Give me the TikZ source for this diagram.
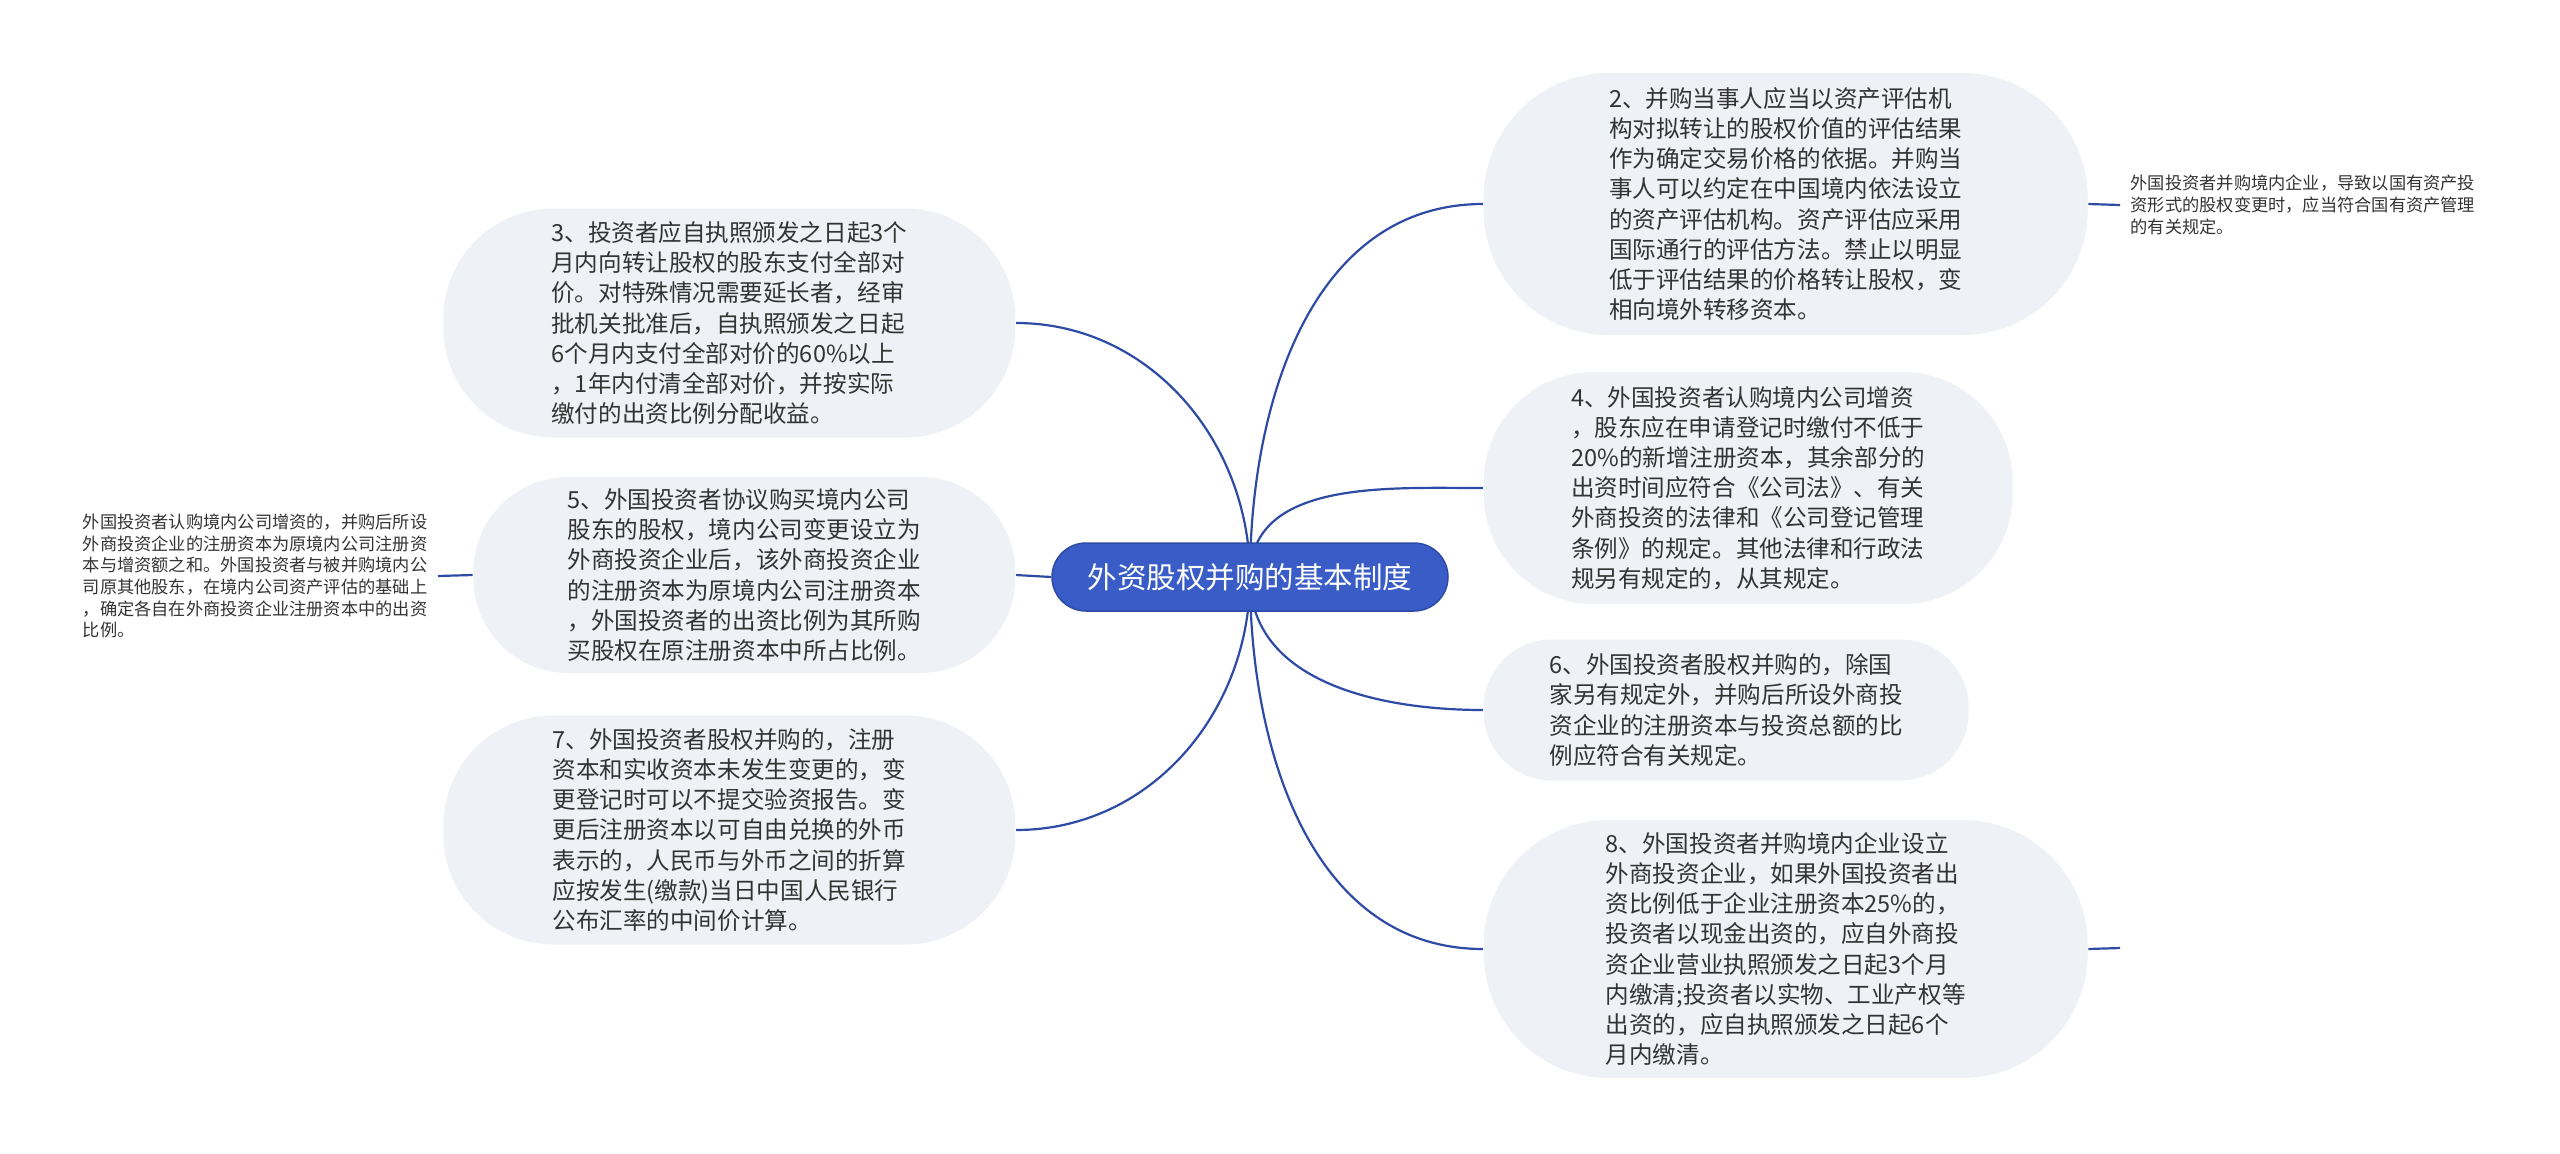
\documentclass[tikz,border=0pt]{standalone}
\usepackage{fontspec}
\setmainfont{Noto Sans CJK SC}
\usetikzlibrary{backgrounds}
\definecolor{mmblue}{HTML}{3A5CC6}
\definecolor{mmline}{HTML}{2D4BA5}
\definecolor{mmgray}{HTML}{EEF1F5}
\definecolor{mmtext}{HTML}{333333}

\tikzset{
  root/.style={fill=mmblue, draw=mmline, line width=0.15mm, text=white, inner sep=0pt,
    font=\fontsize{8.4}{10}\selectfont},
  topic/.style={fill=mmgray, text=mmtext, align=left, inner sep=0pt,
    font=\fontsize{6.7}{8.6}\selectfont},
  leaf/.style={text=mmtext, align=left, inner sep=0pt, inner xsep=1mm,
    font=\fontsize{4.9}{6.15}\selectfont},
  link/.style={draw=mmline, line width=0.22mm}
}

\begin{document}
\begin{tikzpicture}[x=0.1mm, y=-0.1mm]
\useasboundingbox (0,0) rectangle (2560,1153);

% central topic
\node[root, minimum width=39.6mm, minimum height=6.8mm, rounded corners=3.4mm] (root) at (1250,577) {外资股权并购的基本制度};

% left branches
\node[topic, anchor=east, minimum width=57.2mm, minimum height=22.9mm, rounded corners=11mm] (t3) at (1016,323)
  {3、投资者应自执照颁发之日起3个\\月内向转让股权的股东支付全部对\\价。对特殊情况需要延长者，经审\\批机关批准后，自执照颁发之日起\\6个月内支付全部对价的60\%以上\\，1年内付清全部对价，并按实际\\缴付的出资比例分配收益。};
\node[topic, anchor=east, minimum width=54.2mm, minimum height=19.6mm, rounded corners=9.5mm] (t5) at (1016,575)
  {5、外国投资者协议购买境内公司\\股东的股权，境内公司变更设立为\\外商投资企业后，该外商投资企业\\的注册资本为原境内公司注册资本\\，外国投资者的出资比例为其所购\\买股权在原注册资本中所占比例。};
\node[topic, anchor=east, minimum width=57.2mm, minimum height=22.9mm, rounded corners=11mm] (t7) at (1016,830)
  {7、外国投资者股权并购的，注册\\资本和实收资本未发生变更的，变\\更登记时可以不提交验资报告。变\\更后注册资本以可自由兑换的外币\\表示的，人民币与外币之间的折算\\应按发生(缴款)当日中国人民银行\\公布汇率的中间价计算。};
\node[leaf, anchor=east] (l5) at (438,576)
  {外国投资者认购境内公司增资的，并购后所设\\外商投资企业的注册资本为原境内公司注册资\\本与增资额之和。外国投资者与被并购境内公\\司原其他股东，在境内公司资产评估的基础上\\，确定各自在外商投资企业注册资本中的出资\\比例。};

% right branches
\node[topic, anchor=west, minimum width=60.4mm, minimum height=26.2mm, rounded corners=12.5mm] (t2) at (1483,204)
  {2、并购当事人应当以资产评估机\\构对拟转让的股权价值的评估结果\\作为确定交易价格的依据。并购当\\事人可以约定在中国境内依法设立\\的资产评估机构。资产评估应采用\\国际通行的评估方法。禁止以明显\\低于评估结果的价格转让股权，变\\相向境外转移资本。};
\node[topic, anchor=west, minimum width=52.9mm, minimum height=23.2mm, rounded corners=11mm] (t4) at (1483,488)
  {4、外国投资者认购境内公司增资\\，股东应在申请登记时缴付不低于\\20\%的新增注册资本，其余部分的\\出资时间应符合《公司法》、有关\\外商投资的法律和《公司登记管理\\条例》的规定。其他法律和行政法\\规另有规定的，从其规定。};
\node[topic, anchor=west, minimum width=48.5mm, minimum height=14.1mm, rounded corners=6.8mm] (t6) at (1483,710)
  {6、外国投资者股权并购的，除国\\家另有规定外，并购后所设外商投\\资企业的注册资本与投资总额的比\\例应符合有关规定。};
\node[topic, anchor=west, minimum width=60.4mm, minimum height=25.8mm, rounded corners=12.5mm] (t8) at (1483,949)
  {8、外国投资者并购境内企业设立\\外商投资企业，如果外国投资者出\\资比例低于企业注册资本25\%的，\\投资者以现金出资的，应自外商投\\资企业营业执照颁发之日起3个月\\内缴清;投资者以实物、工业产权等\\出资的，应自执照颁发之日起6个\\月内缴清。};
\node[leaf, anchor=west] (l2) at (2120,205)
  {外国投资者并购境内企业，导致以国有资产投\\资形式的股权变更时，应当符合国有资产管理\\的有关规定。};
\coordinate (e8) at (2120,948);

% connectors
\begin{scope}[on background layer]
\draw[link] (root.center) to[out=90, in=0] (t3.east);
\draw[link] (root.west) -- (t5.east);
\draw[link] (root.center) to[out=-90, in=0] (t7.east);
\draw[link] (root.center) to[out=90, in=180] (t2.west);
\draw[link] (root.center) to[out=90, in=180] (t4.west);
\draw[link] (root.center) to[out=-90, in=180] (t6.west);
\draw[link] (root.center) to[out=-90, in=180] (t8.west);
\draw[link] (t5.west) -- (l5.east);
\draw[link] (t2.east) -- (l2.west);
\draw[link] (t8.east) -- (e8);
\end{scope}
\end{tikzpicture}
\end{document}
